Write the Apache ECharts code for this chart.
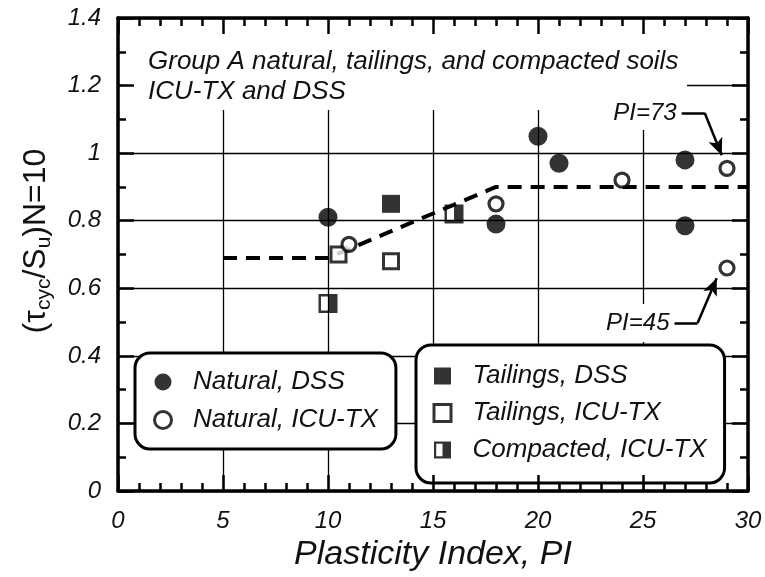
<!DOCTYPE html>
<html>
<head>
<meta charset="utf-8">
<script src="https://cdn.jsdelivr.net/npm/echarts@6/dist/echarts.min.js"></script>
<style>html,body{margin:0;padding:0;background:#fff}#c{width:765px;height:577px}</style>
</head>
<body>
<div id="c"></div>
<script>
// ---- data ----
const naturalDSS = [[10, 0.81], [18, 0.79], [20, 1.05], [21, 0.97], [27, 0.98], [27, 0.785]];
const naturalICU = [[11, 0.73], [18, 0.85], [24, 0.92], [29, 0.955], [29, 0.66]];
const tailingsDSS = [[13, 0.85]];
const tailingsICU = [[10.5, 0.70], [13, 0.68]];
const compactedICU = [[10, 0.555], [16, 0.82]];
const trendLine = [[5, 0.69], [10, 0.69], [18, 0.90], [30, 0.90]];
const legendLeft = ['Natural, DSS', 'Natural, ICU-TX'];
const legendRight = ['Tailings, DSS', 'Tailings, ICU-TX', 'Compacted, ICU-TX'];
const noteTexts = ['PI=73', 'PI=45'];
const noteArrow73 = [[26.84, 1.119], [27.94, 1.119], [28.75, 0.994]];
const noteArrow45 = [[26.5, 0.497], [27.6, 0.497], [28.51, 0.63]];
const titleLines = ['Group A natural, tailings, and compacted soils', 'ICU-TX and DSS'];
const xName = 'Plasticity Index, PI';

const FF = '"Liberation Sans", Arial, Helvetica, sans-serif';
const INK = '#111';
const squarePath = 'path://M0,0L20,0L20,20L0,20Z';
const halfSquare = 'path://M0,0L20,0L20,20L0,20Z M2.6,2.6L2.6,17.4L10,17.4L10,2.6Z';

const chart = echarts.init(document.getElementById('c'), null, {renderer: 'canvas'});

function tickAxis(pos, max, interval, minorSplit) {
  return {
    type: 'value', min: 0, max: max, interval: interval, position: pos, z: 10,
    axisLine: {show: true, onZero: false, lineStyle: {color: '#000', width: 3.5}},
    axisTick: {show: true, inside: true, length: 16, lineStyle: {color: '#000', width: 2.5}},
    minorTick: {show: true, splitNumber: minorSplit, length: 8, lineStyle: {color: '#000', width: 2.5}},
    axisLabel: {show: false}, splitLine: {show: false}
  };
}

function arrowData(pts) {
  return [
    [{coord: pts[0], symbol: 'none'}, {coord: pts[1], symbol: 'none'}],
    [{coord: pts[1], symbol: 'none'}, {coord: pts[2], symbol: 'arrow', symbolSize: [11, 17]}]
  ];
}

const labelFont = {fontSize: 24, fontStyle: 'italic', color: INK, fontFamily: FF};
const legendCommon = {
  orient: 'vertical', selectedMode: false, itemWidth: 50, itemHeight: 17,
  backgroundColor: '#fff', borderColor: '#000', borderWidth: 3, borderRadius: 15,
  textStyle: {fontSize: 26, fontStyle: 'italic', color: INK, fontFamily: FF, lineHeight: 26},
  z: 4
};

const option = {
  animation: false,
  backgroundColor: '#fff',
  grid: {left: 118, right: 17, top: 18, bottom: 86},
  xAxis: [
    {
      type: 'value', min: 0, max: 30, interval: 5, position: 'bottom', z: 0,
      axisLine: {show: false}, axisTick: {show: false},
      splitLine: {show: true, lineStyle: {color: '#000', width: 1.3}},
      axisLabel: Object.assign({margin: 18}, labelFont),
      name: xName, nameLocation: 'middle', nameGap: 46,
      nameTextStyle: {fontSize: 34, fontStyle: 'italic', color: INK, fontFamily: FF}
    },
    tickAxis('bottom', 30, 5, 5),
    tickAxis('top', 30, 5, 5)
  ],
  yAxis: [
    {
      type: 'value', min: 0, max: 1.4, interval: 0.2, position: 'left', z: 0,
      axisLine: {show: false}, axisTick: {show: false},
      splitLine: {show: true, lineStyle: {color: '#000', width: 1.3}},
      axisLabel: Object.assign({margin: 17}, labelFont)
    },
    tickAxis('left', 1.4, 0.2, 2),
    tickAxis('right', 1.4, 0.2, 2)
  ],
  legend: [
    Object.assign({}, legendCommon, {
      left: 135, top: 353, itemGap: 12, padding: [16, 18, 16, 18],
      data: [
        {name: legendLeft[0]},
        {name: legendLeft[1], itemStyle: {borderWidth: 3}}
      ]
    }),
    Object.assign({}, legendCommon, {
      left: 416, top: 345, itemGap: 11, padding: [18, 18, 20, 16.5],
      data: [
        {name: legendRight[0]},
        {name: legendRight[1], itemStyle: {borderWidth: 3}},
        {name: legendRight[2]}
      ]
    })
  ],
  graphic: [
    {type: 'rect', silent: true, z: 2, shape: {x: 122, y: 21, width: 565, height: 89}, style: {fill: '#fff'}},
    {type: 'text', silent: true, z: 3, x: 148, y: 47,
      style: {text: titleLines.join('\n'), fontSize: 26, fontStyle: 'italic', fontFamily: FF, fill: INK, lineHeight: 30}},
    {type: 'text', silent: true, z: 3, x: 36, y: 241, rotation: Math.PI / 2,
      style: {
        text: '{m|(τ}{s|cyc}{m|/S}{s|u}{m|)N=10}',
        align: 'center', verticalAlign: 'middle', fill: INK,
        rich: {
          m: {fontSize: 32, fontFamily: FF, fill: INK, lineHeight: 38, verticalAlign: 'middle'},
          s: {fontSize: 21, fontFamily: FF, fill: INK, lineHeight: 19, verticalAlign: 'bottom'}
        }
      }}
  ],
  series: [
    {
      type: 'line', data: trendLine, symbol: 'none', silent: true, z: 5,
      lineStyle: {color: '#000', width: 4, type: [14, 9]}
    },
    {name: legendRight[0], type: 'scatter', data: tailingsDSS, symbol: squarePath, symbolSize: 18, silent: true, z: 6,
      itemStyle: {color: '#000'}},
    {name: legendRight[1], type: 'scatter', data: tailingsICU, symbol: squarePath, symbolSize: 15, silent: true, z: 6,
      itemStyle: {color: '#fff', borderColor: '#000', borderWidth: 3}},
    {name: legendRight[2], type: 'scatter', data: compactedICU, symbol: halfSquare, symbolSize: 19, silent: true, z: 6,
      itemStyle: {color: '#000'}},
    {name: legendLeft[0], type: 'scatter', data: naturalDSS, symbol: 'circle', symbolSize: 19, silent: true, z: 7,
      itemStyle: {color: '#000'}},
    {name: legendLeft[1], type: 'scatter', data: naturalICU, symbol: 'circle', symbolSize: 14, silent: true, z: 7,
      itemStyle: {color: '#fff', borderColor: '#000', borderWidth: 3.2}},
    {
      name: 'notes', type: 'scatter', data: [], silent: true, z: 8,
      markLine: {
        silent: true, animation: false, symbol: ['none', 'none'],
        lineStyle: {color: '#000', width: 2.5, type: 'solid'},
        label: {show: false},
        emphasis: {disabled: true},
        data: arrowData(noteArrow73).concat(arrowData(noteArrow45))
      },
      markPoint: {
        silent: true, symbol: 'circle', symbolSize: 0,
        label: Object.assign({show: true, position: 'left', distance: 2, backgroundColor: '#fff'}, labelFont),
        data: [
          {coord: noteArrow73[0], value: noteTexts[0], label: {formatter: noteTexts[0], padding: [3, 3, 7, 3]}},
          {coord: noteArrow45[0], value: noteTexts[1], label: {formatter: noteTexts[1], padding: [6, 3, 8, 3]}}
        ]
      }
    }
  ]
};
chart.setOption(option);
</script>
</body>
</html>
